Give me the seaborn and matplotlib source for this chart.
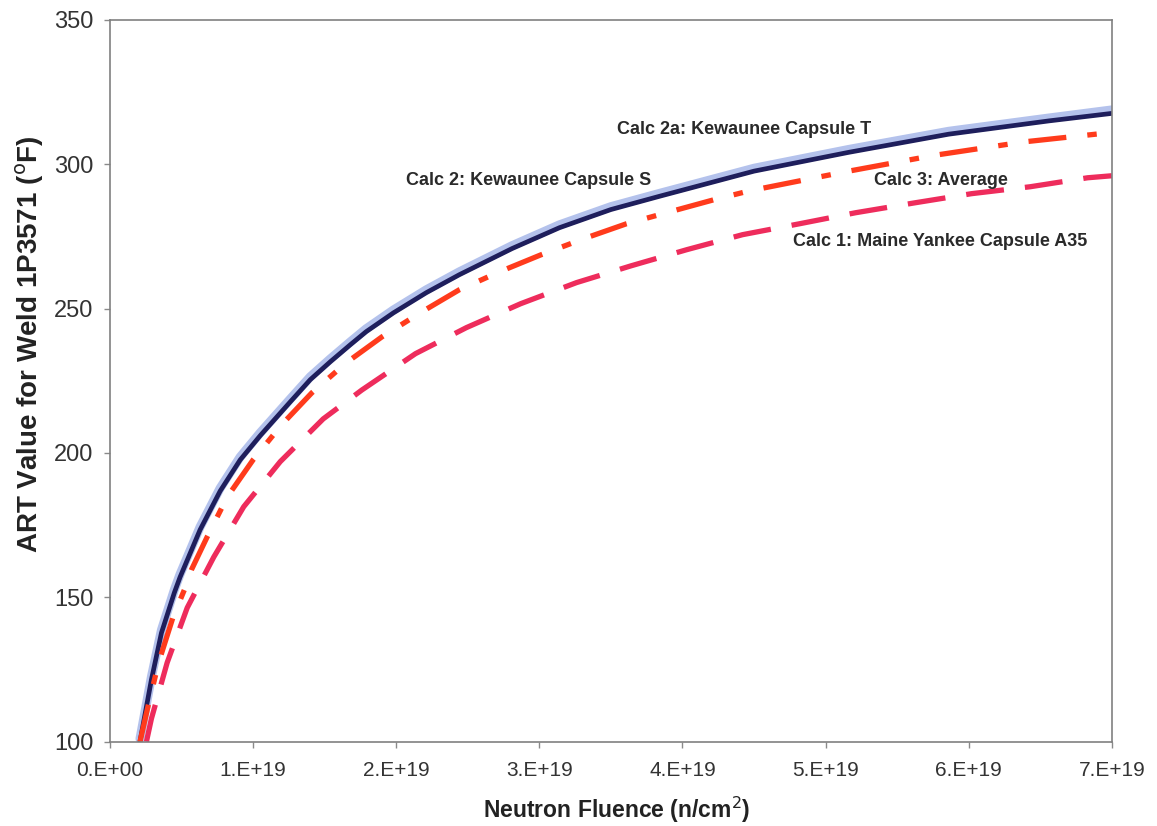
import numpy as np
import pandas as pd
import matplotlib
matplotlib.use("Agg")
import matplotlib.pyplot as plt
import seaborn as sns

# fluence in units of 1e19 n/cm^2
calc2a_x = [0.21, 0.29, 0.36, 0.45, 0.49, 0.63, 0.77, 0.91, 1.05, 1.26, 1.40, 1.54,
            1.68, 1.79, 1.98, 2.21, 2.44, 2.81, 3.14, 3.50, 3.84, 4.50, 5.16, 5.86,
            6.56, 7.00]
calc2a_y = [100, 121.5, 137.7, 151.6, 157, 173.4, 186.8, 197.6, 206, 217.7, 225.4, 231.6,
            237.5, 242, 248.5, 255.5, 261.7, 270.8, 278.0, 284.3, 288.9, 297.6, 304.1, 310.4,
            315, 317.6]

calc2_x = calc2a_x
calc2_y = [101, 122.5, 138.7, 152.6, 158, 174.4, 187.8, 198.6, 207, 218.7, 226.4, 232.6,
           238.5, 243, 249.5, 256.5, 262.7, 271.8, 279.0, 285.3, 289.9, 298.6, 305.1, 311.4,
           316, 318.8]

calc3_x = [0.21, 0.265, 0.34, 0.44, 0.52, 0.57, 0.68, 0.82, 1.00, 1.20, 1.41, 1.65,
           1.90, 2.17, 2.44, 2.72, 3.01, 3.31, 3.61, 3.91, 4.22, 4.47, 5.14, 5.75,
           6.38, 7.00]
calc3_y = [100, 112, 127.4, 143, 152.6, 159.6, 171, 184.8, 197.6, 209.8, 220.8, 231.2,
           240.2, 248.6, 256.5, 262.7, 268.6, 274.2, 279.4, 283.5, 287.7, 290.8, 297.4, 303,
           307.7, 311]

calc1_x = [0.255, 0.29, 0.40, 0.54, 0.726, 0.935, 1.19, 1.49, 1.76, 2.135, 2.49, 2.87,
           3.26, 3.64, 4.03, 4.42, 4.82, 5.21, 5.62, 6.02, 6.43, 6.83, 7.00]
calc1_y = [100, 108, 127.4, 146.4, 164, 181.4, 197, 211.8, 221.8, 234.4, 243.4, 251.7,
           259, 264.8, 270.4, 275.6, 279.4, 283.2, 286.6, 289.8, 292.2, 295.3, 296]

x_ticks = [0, 1, 2, 3, 4, 5, 6, 7]
x_tick_labels = ["0.E+00", "1.E+19", "2.E+19", "3.E+19", "4.E+19", "5.E+19", "6.E+19", "7.E+19"]
y_ticks = [100, 150, 200, 250, 300, 350]

labels = ["Calc 2a: Kewaunee Capsule T", "Calc 2: Kewaunee Capsule S",
          "Calc 3: Average", "Calc 1: Maine Yankee Capsule A35"]

sns.set_style("ticks")
plt.rcParams["font.family"] = ["Liberation Sans", "DejaVu Sans"]

fig = plt.figure(figsize=(11.57, 8.26), dpi=100)
ax = fig.add_axes([0.095, 0.102, 0.866, 0.874])

def to_df(xs, ys):
    return pd.DataFrame({"fluence": np.array(xs) * 1e19, "art": ys})

sns.lineplot(data=to_df(calc2_x, calc2_y), x="fluence", y="art", ax=ax,
             color="#b4c2ec", lw=6.5, sort=False, estimator=None)
sns.lineplot(data=to_df(calc2a_x, calc2a_y), x="fluence", y="art", ax=ax,
             color="#1e1e5c", lw=3.4, sort=False, estimator=None)
sns.lineplot(data=to_df(calc3_x, calc3_y), x="fluence", y="art", ax=ax,
             color="#ff3b1c", lw=3.8, sort=False, estimator=None,
             linestyle=(0, (7.2, 4.0, 1.8, 4.0)))
sns.lineplot(data=to_df(calc1_x, calc1_y), x="fluence", y="art", ax=ax,
             color="#ee2c5c", lw=3.8, sort=False, estimator=None,
             linestyle=(0, (7.2, 4.0)))

ax.set_xlim(0, 7e19)
ax.set_ylim(100, 350)
ax.set_xticks([t * 1e19 for t in x_ticks])
ax.set_xticklabels(x_tick_labels)
ax.set_yticks(y_ticks)
ax.tick_params(axis="both", colors="#333333", length=4, width=1, direction="out")
ax.tick_params(axis="both", color="#8a8a8a")
ax.tick_params(axis="x", labelsize=15, pad=10)
ax.tick_params(axis="y", labelsize=17, pad=8)

for s in ax.spines.values():
    s.set_visible(True)
    s.set_color("#808080")
    s.set_linewidth(1.2)

ax.set_xlabel("Neutron Fluence (n/cm$^2$)", fontsize=16.5, fontweight="bold", color="#222222")
ax.set_ylabel("ART Value for Weld 1P3571 ($^\\mathrm{o}$F)", fontsize=20,
              fontweight="bold", color="#222222")
ax.xaxis.set_label_coords(0.506, -0.074)
ax.yaxis.set_label_coords(-0.064, 0.55)

txt = dict(fontsize=13, fontweight="bold", color="#2a2a2a", va="center", ha="left")
ax.text(3.54e19, 311.9, labels[0], **txt)
ax.text(2.07e19, 294.3, labels[1], **txt)
ax.text(5.34e19, 294.3, labels[2], **txt)
ax.text(4.77e19, 273.1, labels[3], **txt)

fig.savefig("out.png", dpi=100)
